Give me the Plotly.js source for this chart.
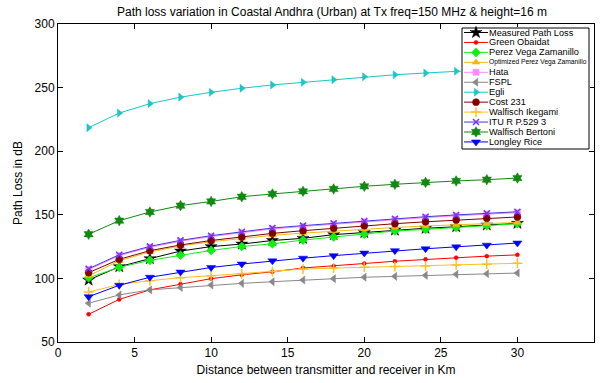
<!DOCTYPE html>
<html>
<head>
<meta charset="utf-8">
<script src="https://cdn.plot.ly/plotly-3.0.1.min.js"></script>
<style>html,body{margin:0;padding:0;background:#fff;}#chart{width:600px;height:383px;}</style>
</head>
<body>
<div id="chart"></div>
<script>
// ---- data ----
const distanceKm = [2, 4, 6, 8, 10, 12, 14, 16, 18, 20, 22, 24, 26, 28, 30];
const measuredPathLoss = [98.7, 109.2, 115.5, 121.5, 125.0, 127.0, 129.8, 131.5, 134.4, 136.0, 138.0, 139.4, 140.6, 142.0, 143.3];
const greenObaidat = [71.8, 83.5, 91.0, 95.6, 99.8, 102.8, 105.2, 108.2, 109.7, 111.7, 113.5, 115.0, 116.3, 117.5, 118.5];
const perezVegaZamanillo = [100.5, 108.7, 114.2, 118.2, 122.0, 125.1, 127.2, 130.1, 132.6, 134.8, 137.3, 138.5, 140.0, 141.5, 143.0];
const optimizedPerezVega = [102.0, 113.9, 120.8, 125.5, 128.8, 131.5, 133.9, 135.6, 137.2, 138.6, 140.0, 141.2, 142.2, 143.0, 144.0];
const hata = [106.9, 117.9, 124.5, 129.2, 132.9, 135.9, 138.9, 140.8, 142.7, 144.5, 146.2, 147.8, 149.2, 150.5, 151.7];
const fspl = [80.5, 87.0, 91.0, 92.8, 94.8, 96.1, 97.4, 98.7, 99.8, 100.9, 101.6, 102.4, 103.2, 103.7, 104.2];
const egli = [218.5, 230.0, 237.4, 242.5, 246.3, 249.5, 252.1, 254.2, 256.2, 258.5, 260.1, 261.5, 262.8, 264.1, 265.3];
const cost231 = [104.5, 115.0, 121.8, 126.3, 129.8, 132.5, 135.4, 137.5, 139.5, 141.4, 143.0, 144.5, 145.9, 147.2, 148.3];
const walfischIkegami = [89.3, 95.2, 98.2, 100.6, 102.1, 103.7, 105.4, 107.3, 108.1, 108.8, 109.3, 109.8, 110.6, 111.2, 111.9];
const ituRP5293 = [107.6, 118.6, 125.2, 129.9, 133.6, 136.6, 139.6, 141.5, 143.4, 145.2, 146.9, 148.5, 149.9, 151.2, 152.4];
const walfischBertoni = [134.7, 145.4, 152.2, 157.2, 160.5, 164.2, 166.4, 168.5, 170.3, 172.4, 174.0, 175.5, 176.6, 177.6, 178.9];
const longleyRice = [85.6, 94.6, 100.9, 105.0, 108.6, 111.3, 113.8, 115.9, 117.9, 119.9, 121.8, 123.3, 124.8, 126.1, 127.8];

const seriesNames = ['Measured Path Loss', 'Green Obaidat', 'Perez Vega Zamanillo', 'Optimized Perez Vega Zamanillo',
  'Hata', 'FSPL', 'Egli', 'Cost 231', 'Walfisch Ikegami', 'ITU R P.529 3', 'Walfisch Bertoni', 'Longley Rice'];
const seriesValues = [measuredPathLoss, greenObaidat, perezVegaZamanillo, optimizedPerezVega, hata, fspl, egli,
  cost231, walfischIkegami, ituRP5293, walfischBertoni, longleyRice];
const xTicks = [0, 5, 10, 15, 20, 25, 30, 35];
const yTicks = [50, 100, 150, 200, 250, 300];

// ---- styles ----
const styles = [
  {color: '#000000', symbol: 'star', size: 9, mline: '#000000'},
  {color: '#ff0000', symbol: 'circle', size: 4, mline: '#ff0000'},
  {color: '#11ee11', symbol: 'diamond', size: 7, mline: '#11ee11'},
  {color: '#eebb11', symbol: 'triangle-up', size: 7, mline: '#eebb11'},
  {color: '#ff88ff', symbol: 'square', size: 6, mline: '#ff88ff'},
  {color: '#888888', symbol: 'triangle-left', size: 7, mline: '#888888'},
  {color: '#1ac6c6', symbol: 'triangle-right', size: 7, mline: '#1ac6c6'},
  {color: '#800000', symbol: 'circle', size: 7, mline: '#800000'},
  {color: '#ffc020', symbol: 'cross-thin', size: 7, mline: '#ffc020', open: true},
  {color: '#4433dd', symbol: 'x-thin', size: 6, mline: '#7733ff', open: true},
  {color: '#118811', symbol: 'hexagram', size: 8, mline: '#118811'},
  {color: '#0000ff', symbol: 'triangle-down', size: 8, mline: '#0000ff'}
];

function markerOf(s) {
  return s.open
    ? {symbol: s.symbol, size: s.size, color: s.mline, line: {color: s.mline, width: 1.5}}
    : {symbol: s.symbol, size: s.size, color: s.color, line: {color: s.mline, width: 0.5}};
}

const traces = seriesNames.map((name, i) => ({
  type: 'scatter', mode: 'lines+markers', name: name,
  x: distanceKm, y: seriesValues[i],
  line: {color: styles[i].color, width: 1},
  marker: markerOf(styles[i]),
  xaxis: 'x', yaxis: 'y', showlegend: false, hoverinfo: 'skip'
}));

// ---- custom legend box (page-pixel coordinates on an auxiliary subplot) ----
const plotL = 58, plotR = 594, plotT = 24, plotB = 342;
const boxL = 462, boxR = 589, boxT = 28, boxB = 149;
const pw = plotR - plotL, ph = plotB - plotT;
const rowY0 = 32.5, rowStep = 9.95;

traces.push({
  type: 'scatter', mode: 'lines', x: [boxL, boxR, boxR, boxL, boxL], y: [-boxB, -boxB, -boxT, -boxT, -boxB],
  fill: 'toself', fillcolor: '#ffffff', line: {color: '#000000', width: 1},
  xaxis: 'x2', yaxis: 'y2', showlegend: false, hoverinfo: 'skip'
});
const annotations = [];
seriesNames.forEach((name, i) => {
  const yy = -(rowY0 + i * rowStep);
  traces.push({
    type: 'scatter', mode: 'lines', x: [boxL + 2, boxL + 26], y: [yy, yy],
    line: {color: styles[i].color, width: 1}, xaxis: 'x2', yaxis: 'y2', showlegend: false, hoverinfo: 'skip'
  });
  traces.push({
    type: 'scatter', mode: 'markers', x: [boxL + 14], y: [yy],
    marker: markerOf(styles[i]), xaxis: 'x2', yaxis: 'y2', showlegend: false, hoverinfo: 'skip', cliponaxis: false
  });
  const narrow = name.startsWith('Optimized');
  annotations.push({
    xref: 'x2', yref: 'y2', x: boxL + 26, y: yy, xanchor: 'left', yanchor: 'middle', showarrow: false,
    text: name, borderpad: 0,
    font: narrow ? {family: 'Liberation Sans, Arial', size: 6.7, color: '#000'}
                 : {family: 'Liberation Sans, Arial', size: 9.2, color: '#000'}
  });
});

const axisFont = {family: 'Liberation Sans, Arial', size: 12, color: '#000'};
const layout = {
  width: 600, height: 383,
  margin: {l: plotL, r: 600 - plotR, t: plotT, b: 383 - plotB, pad: 0},
  paper_bgcolor: '#ffffff', plot_bgcolor: '#ffffff',
  font: axisFont,
  showlegend: false,
  title: {
    text: 'Path loss variation in Coastal Andhra (Urban) at Tx freq=150 MHz & height=16 m',
    font: {family: 'Liberation Sans, Arial', size: 12, color: '#000'},
    xref: 'container', x: 332 / 600, xanchor: 'center',
    yref: 'container', y: 1 - 12 / 383, yanchor: 'middle'
  },
  xaxis: {
    range: [0, 35], tickvals: xTicks, ticktext: xTicks.map(String),
    ticks: 'inside', ticklen: 5, tickwidth: 1, tickcolor: '#000',
    showline: true, linecolor: '#000', linewidth: 1, mirror: 'ticks',
    showgrid: false, zeroline: false, tickfont: axisFont,
    title: {text: 'Distance between transmitter and receiver in Km', font: axisFont, standoff: 6},
    domain: [0, 1]
  },
  yaxis: {
    range: [50, 300], tickvals: yTicks, ticktext: yTicks.map(String),
    ticks: 'inside', ticklen: 5, tickwidth: 1, tickcolor: '#000',
    showline: true, linecolor: '#000', linewidth: 1, mirror: 'ticks',
    showgrid: false, zeroline: false, tickfont: axisFont,
    title: {text: 'Path Loss in dB', font: axisFont, standoff: 9},
    domain: [0, 1]
  },
  xaxis2: {
    domain: [(boxL - 1 - plotL) / pw, (boxR + 1 - plotL) / pw], range: [boxL - 1, boxR + 1],
    visible: false, fixedrange: true, anchor: 'y2'
  },
  yaxis2: {
    domain: [(plotB - (boxB + 1)) / ph, (plotB - (boxT - 1)) / ph], range: [-(boxB + 1), -(boxT - 1)],
    visible: false, fixedrange: true, anchor: 'x2'
  },
  annotations: annotations
};

Plotly.newPlot('chart', traces, layout, {staticPlot: true, displayModeBar: false});
</script>
</body>
</html>
